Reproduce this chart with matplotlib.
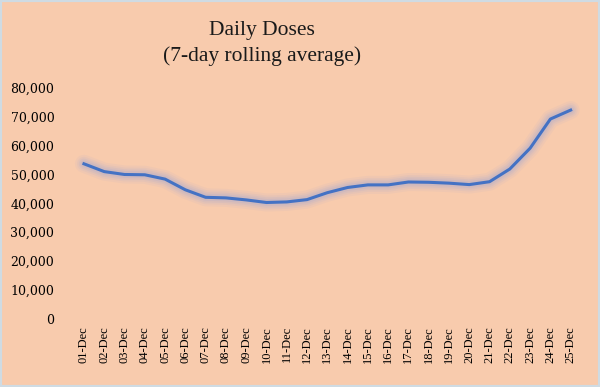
import matplotlib
matplotlib.use("Agg")
import matplotlib.pyplot as plt
from matplotlib.ticker import FuncFormatter

days = ["%02d-Dec" % d for d in range(1, 26)]
doses = [53700, 51000, 50000, 49900, 48400, 44700, 42100, 41900, 41200, 40300,
         40500, 41300, 43700, 45500, 46400, 46400, 47400, 47300, 47000, 46500,
         47500, 51900, 59100, 69200, 72300]

bg = "#F8CBAD"
line_col = "#4472C4"

plt.rcParams["font.family"] = ["DejaVu Serif"]

fig = plt.figure(figsize=(6, 3.87), dpi=100, facecolor=bg)
fig.patches.append(plt.Rectangle((0, 0), 1, 1, transform=fig.transFigure,
                                 fill=False, edgecolor="#cfdbe3", linewidth=3))
ax = fig.add_axes([0.123, 0.176, 0.845, 0.597])
ax.set_facecolor(bg)

x = list(range(len(days)))
# soft glow under the line
for w, a in [(13, 0.07), (10, 0.09), (7.5, 0.11), (5, 0.14)]:
    ax.plot(x, doses, color="#8a9be0", linewidth=w, alpha=a,
            solid_capstyle="round", solid_joinstyle="round")
ax.plot(x, doses, color=line_col, linewidth=2.2, solid_joinstyle="round")

ax.set_xlim(-0.5, len(days) - 0.5)
ax.set_ylim(0, 80000)
ax.set_yticks(range(0, 80001, 10000))
ax.yaxis.set_major_formatter(FuncFormatter(lambda v, p: f"{int(v):,}"))
ax.set_xticks(x)
ax.set_xticklabels(days, rotation=90, fontsize=9, family="Liberation Serif")
ax.tick_params(axis="y", labelsize=9, length=0, pad=14)
ax.tick_params(axis="x", length=0, pad=5)
for s in ax.spines.values():
    s.set_visible(False)

fig.text(0.437, 0.888, "Daily Doses\n(7-day rolling average)", ha="center",
         va="center", fontsize=15.5, color="#1a1a1a", linespacing=1.4,
         family="Liberation Serif")

fig.savefig("out.png", dpi=100, facecolor=bg)
